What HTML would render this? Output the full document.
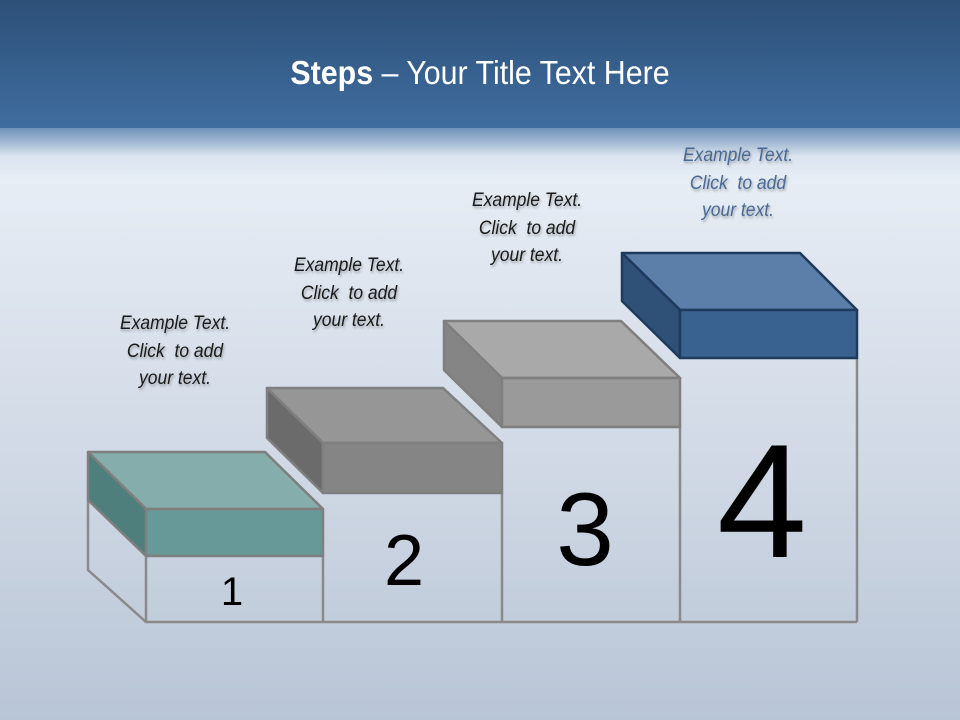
<!DOCTYPE html>
<html><head><meta charset="utf-8"><style>
html,body{margin:0;padding:0}
body{width:960px;height:720px;position:relative;overflow:hidden;font-family:"Liberation Sans",sans-serif;
background:linear-gradient(180deg,#c9d6e6 120px,#e6edf5 180px,#dde4ee 300px,#cdd6e3 500px,#b8c5d6 720px);}
.hdr{position:absolute;left:0;top:0;width:960px;height:128px;background:linear-gradient(180deg,#2d5078,#3f6d9f);}
.fade{position:absolute;left:0;top:126px;width:960px;height:30px;background:linear-gradient(180deg,rgba(63,109,159,0.7),rgba(63,109,159,0));}
.title{position:absolute;left:0;top:54px;width:960px;text-align:center;color:#fff;font-size:33px;transform:scaleX(0.92);}
.t{position:absolute;width:180px;text-align:center;font-style:italic;font-size:19px;line-height:27.5px;color:#1a1a1a;font-family:"Liberation Sans Narrow","Liberation Sans",sans-serif;text-shadow:1px 2px 3px rgba(0,0,0,0.3);transform:scaleX(0.92)}
svg{position:absolute;left:0;top:0}
</style></head><body>
<div class="hdr"></div><div class="fade"></div>
<div class="title"><b>Steps</b> – Your Title Text Here</div>
<svg width="960" height="720">
<g fill="none" stroke="#8a8a8a" stroke-width="2.5">
<polyline points="88,500 88,570 146,622 857,622"/>
<line x1="146" y1="556" x2="146" y2="622"/><line x1="323" y1="556" x2="323" y2="622"/>
<line x1="502" y1="493" x2="502" y2="622"/><line x1="680" y1="427" x2="680" y2="622"/>
<line x1="857" y1="358" x2="857" y2="622"/>
</g>
<g stroke="#7f7f7f" stroke-width="2.5" stroke-linejoin="round">
<polygon points="88,452 265,452 323,509 146,509" fill="#84adac"/>
<polygon points="88,452 146,509 146,556 88,500" fill="#4f7f7d"/>
<rect x="146" y="509" width="177" height="47" fill="#669997"/>
<polygon points="267,388 443,388 502,443 323,443" fill="#969696"/>
<polygon points="267,388 323,443 323,493 267,438" fill="#6b6b6b"/>
<rect x="323" y="443" width="179" height="50" fill="#858585"/>
<polygon points="444,321 621,321 680,378 502,378" fill="#a9a9a9"/>
<polygon points="444,321 502,378 502,427 444,370" fill="#858585"/>
<rect x="502" y="378" width="178" height="49" fill="#9a9a9a"/>
</g>
<g stroke="#1e3a5c" stroke-width="2.5" stroke-linejoin="round">
<polygon points="622,253 800,253 857,310 680,310" fill="#5b7fa8"/>
<polygon points="622,253 680,310 680,358 622,301" fill="#2f5177"/>
<rect x="680" y="310" width="177" height="48" fill="#3a6291"/>
</g>
<g fill="#000" font-family="Liberation Sans,sans-serif" text-anchor="middle">
<text x="232" y="605" font-size="40">1</text>
<text x="404" y="585" font-size="72">2</text>
<text x="585" y="565" font-size="104">3</text>
<text x="762" y="557" font-size="162">4</text>
</g>
</svg>
<div class="t" style="left:85px;top:310px">Example Text.<br>Click&nbsp; to add<br>your text.</div>
<div class="t" style="left:259px;top:252px">Example Text.<br>Click&nbsp; to add<br>your text.</div>
<div class="t" style="left:437px;top:187px">Example Text.<br>Click&nbsp; to add<br>your text.</div>
<div class="t" style="left:648px;top:142px;color:#4a6a95">Example Text.<br>Click&nbsp; to add<br>your text.</div>
</body></html>
